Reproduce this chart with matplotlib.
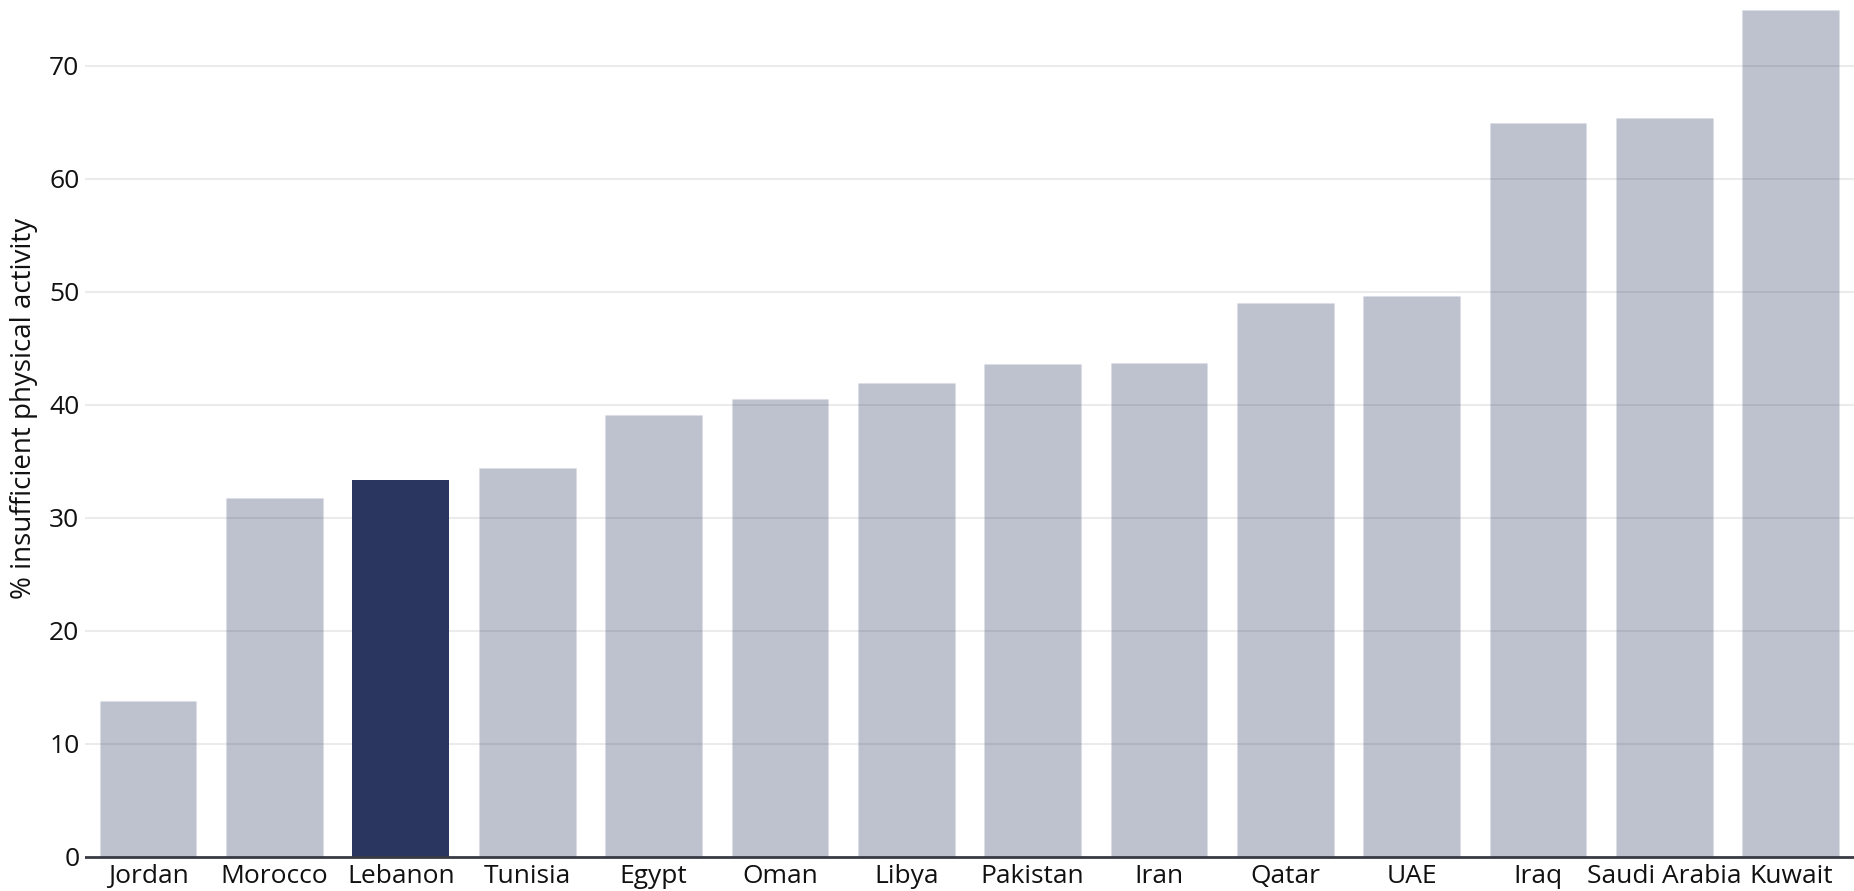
import matplotlib.pyplot as plt
import numpy as np

countries = ["Jordan", "Morocco", "Lebanon", "Tunisia", "Egypt", "Oman", "Libya",
             "Pakistan", "Iran", "Qatar", "UAE", "Iraq", "Saudi Arabia", "Kuwait"]
inactivity = [13.8, 31.7, 33.3, 34.4, 39.1, 40.5, 41.9, 43.6, 43.7, 49.0, 49.6, 64.9, 65.4, 74.9]
highlight = "Lebanon"

navy = "#2a3660"

plt.rcParams['font.family'] = ['Open Sans', 'DejaVu Sans']

fig = plt.figure(figsize=(18.54, 8.91), dpi=100)
ax = fig.add_axes([0.0458, 0.0354, 0.9542, 0.9646])

x = np.arange(len(countries))
for i, (c, v) in enumerate(zip(countries, inactivity)):
    if c == highlight:
        ax.bar(i, v, width=0.766, color=navy, zorder=2)
    else:
        ax.bar(i, v, width=0.766, color=navy, alpha=0.3, zorder=2,
               edgecolor="#d8dbe3", linewidth=0.8)

ax.set_xlim(-0.5, len(countries) - 0.5)
ax.set_ylim(-0.25, 75.8)
ax.set_yticks([0, 10, 20, 30, 40, 50, 60, 70])
ax.set_xticks(x)
ax.set_xticklabels(countries)
ax.grid(axis="y", color="#ebebeb", linewidth=1.5, zorder=0)
ax.set_axisbelow(True)
ax.axhline(0, color="#3a3a44", linewidth=2, zorder=3)

for s in ax.spines.values():
    s.set_visible(False)
ax.tick_params(axis="both", length=0, labelsize=19, colors="#111111")
ax.tick_params(axis="y", pad=4)
ax.tick_params(axis="x", pad=3)
ax.set_ylabel("% insufficient physical activity", fontsize=20, color="#111111")
ax.yaxis.set_label_coords(-0.0265, 0.525)

fig.savefig("out.png", dpi=100)
